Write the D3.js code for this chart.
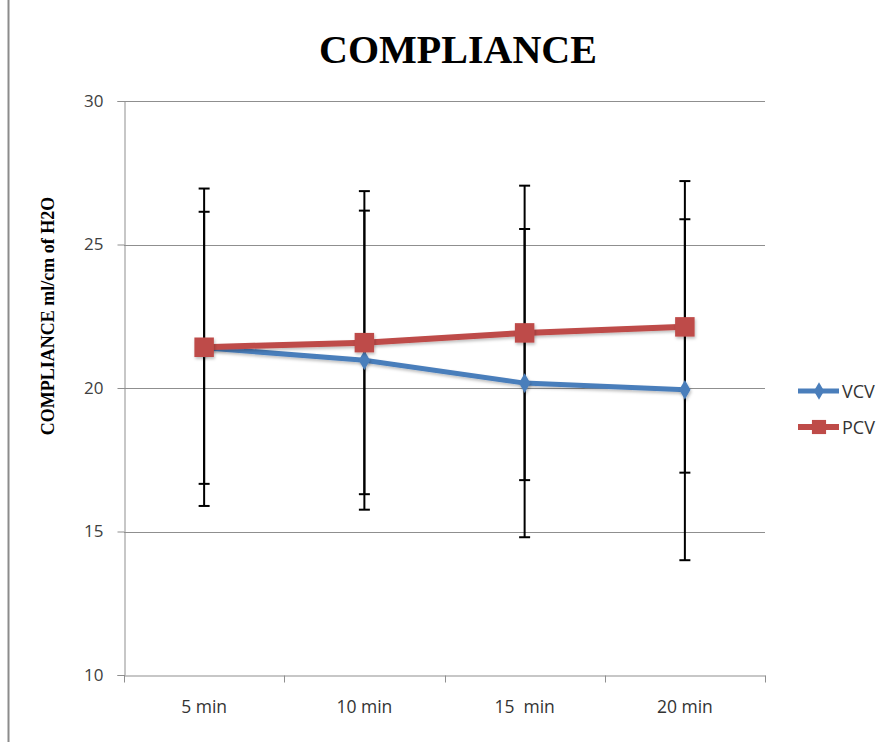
<!DOCTYPE html>
<html>
<head>
<meta charset="utf-8">
<script src="https://cdn.jsdelivr.net/npm/d3@7"></script>
<style>
  body { margin: 0; background: #fff; }
  .ylab text { font-family: "Open Sans", sans-serif; font-size: 17px; fill: #404040; }
  .xlab text { font-family: "Open Sans", sans-serif; font-size: 17.5px; fill: #333; white-space: pre; }
  .legend text { font-family: "Open Sans", sans-serif; font-size: 18px; fill: #333; }
</style>
</head>
<body>
<div class="chart"></div>
<script>
var svg_width = 896;
var svg_height = 742;

// chart data
var categories = ["5 min", "10 min", "15  min", "20 min"];
var vcvMean = [21.4, 20.97, 20.17, 19.94];
var vcvErr = [4.74, 5.21, 5.37, 5.94];
var pcvMean = [21.42, 21.58, 21.92, 22.13];
var pcvErr = [5.53, 5.28, 5.13, 5.08];
var yTicks = [10, 15, 20, 25, 30];

var margin = { top: 101, left: 124, right: 131, bottom: 67 };
var width = svg_width - margin.left - margin.right;
var height = svg_height - margin.top - margin.bottom;

var svg = d3.select(".chart")
  .append("svg")
  .attr("width", svg_width)
  .attr("height", svg_height);

// chart border
svg.append("rect")
  .attr("x", 8.5).attr("y", -2)
  .attr("width", 900).attr("height", 760)
  .attr("fill", "none").attr("stroke", "#8c8c8c").attr("stroke-width", 2);

var g = svg.append("g")
  .attr("transform", `translate(${margin.left},${margin.top})`);

var x = d3.scaleBand().domain(categories).range([0, width]).padding(0);
var y = d3.scaleLinear().domain([10, 30]).range([height, 0]);

// gridlines
g.selectAll(".grid")
  .data(yTicks.filter(d => d > 10))
  .enter().append("line")
  .attr("x1", 0).attr("x2", width)
  .attr("y1", d => Math.round(y(d)) + 0.5).attr("y2", d => Math.round(y(d)) + 0.5)
  .attr("stroke", "#8f8f8f").attr("stroke-width", 1);

// y axis
var yAxis = g.append("g").attr("class", "ylab")
  .attr("transform", "translate(0.5,0)")
  .call(d3.axisLeft(y).tickValues(yTicks).tickSize(7).tickPadding(14));
yAxis.select(".domain").attr("stroke", "#8f8f8f");
yAxis.selectAll(".tick line").attr("stroke", "#8f8f8f");

// x axis
var xAxis = g.append("g").attr("class", "xlab")
  .attr("transform", `translate(0,${height + 0.5})`)
  .call(d3.axisBottom(x).tickSize(0).tickPadding(25));
xAxis.select(".domain").attr("stroke", "#8f8f8f");
var bounds = categories.map(c => x(c)).concat([x.range()[1]]);
xAxis.selectAll(".bnd")
  .data(bounds)
  .enter().append("line")
  .attr("x1", d => Math.round(d) + 0.5).attr("x2", d => Math.round(d) + 0.5)
  .attr("y1", 0).attr("y2", 7)
  .attr("stroke", "#8f8f8f");

var cx = c => x(c) + x.bandwidth() / 2;

// error bars
var series = [
  { name: "VCV", mean: vcvMean, err: vcvErr, color: "#4a7ebb" },
  { name: "PCV", mean: pcvMean, err: pcvErr, color: "#be4b48" }
];

series.forEach(function(s) {
  var rows = categories.map((c, i) => ({ c: c, m: s.mean[i], e: s.err[i] }));
  var eb = g.append("g");
  eb.selectAll(".v").data(rows).enter().append("line")
    .attr("x1", d => cx(d.c)).attr("x2", d => cx(d.c))
    .attr("y1", d => y(d.m + d.e)).attr("y2", d => y(d.m - d.e))
    .attr("stroke", "#000").attr("stroke-width", 2);
  [1, -1].forEach(function(sign) {
    eb.selectAll(".cap" + sign).data(rows).enter().append("line")
      .attr("x1", d => cx(d.c) - 5.5).attr("x2", d => cx(d.c) + 5.5)
      .attr("y1", d => y(d.m + sign * d.e)).attr("y2", d => y(d.m + sign * d.e))
      .attr("stroke", "#000").attr("stroke-width", 2);
  });
});

var line = d3.line().x(d => cx(d.c)).y(d => y(d.m));

var defs = svg.append("defs");
var f = defs.append("filter").attr("id", "sh").attr("x", "-50%").attr("y", "-50%").attr("width", "200%").attr("height", "200%");
f.append("feDropShadow").attr("dx", 1).attr("dy", 2).attr("stdDeviation", 1.5).attr("flood-color", "#000").attr("flood-opacity", 0.25);

series.forEach(function(s) {
  var rows = categories.map((c, i) => ({ c: c, m: s.mean[i] }));
  g.append("path").datum(rows)
    .attr("d", line)
    .attr("fill", "none")
    .attr("stroke", s.color)
    .attr("stroke-width", s.name === "VCV" ? 5 : 6)
    .attr("filter", "url(#sh)");
});

var diamond = d3.symbol().type(d3.symbolDiamond).size(110);
var square = d3.symbol().type(d3.symbolSquare).size(380);

series.forEach(function(s) {
  var rows = categories.map((c, i) => ({ c: c, m: s.mean[i] }));
  g.selectAll(".mk" + s.name).data(rows).enter().append("path")
    .attr("d", s.name === "VCV" ? diamond : square)
    .attr("transform", d => `translate(${cx(d.c)},${y(d.m)})`)
    .attr("fill", s.color)
    .attr("filter", "url(#sh)");
});

// legend
var legend = svg.append("g").attr("class", "legend");
series.forEach(function(s, i) {
  var ly = 391 + i * 36;
  legend.append("line")
    .attr("x1", 798).attr("x2", 839).attr("y1", ly).attr("y2", ly)
    .attr("stroke", s.color).attr("stroke-width", s.name === "VCV" ? 5 : 6);
  legend.append("path")
    .attr("d", s.name === "VCV" ? d3.symbol().type(d3.symbolDiamond).size(90) : d3.symbol().type(d3.symbolSquare).size(200))
    .attr("transform", `translate(819,${ly})`)
    .attr("fill", s.color);
  legend.append("text")
    .attr("x", 842).attr("y", ly + 7)
    .text(s.name);
});

// title
svg.append("text")
  .attr("x", 458).attr("y", 63)
  .attr("text-anchor", "middle")
  .style("font-family", "'Liberation Serif', 'Times New Roman', serif")
  .style("font-weight", "bold")
  .style("font-size", "40px")
  .text("COMPLIANCE");

// y axis title
svg.append("text")
  .attr("transform", "translate(54,316) rotate(-90)")
  .attr("text-anchor", "middle")
  .style("font-family", "'Liberation Serif', 'Times New Roman', serif")
  .style("font-weight", "bold")
  .style("font-size", "18px")
  .text("COMPLIANCE ml/cm of H2O");
</script>
</body>
</html>
